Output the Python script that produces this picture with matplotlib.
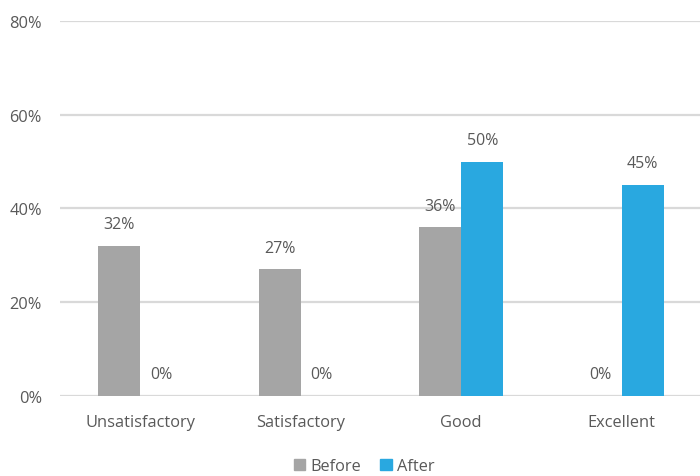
import matplotlib.pyplot as plt
import numpy as np
from matplotlib.patches import Patch

categories = ['Unsatisfactory', 'Satisfactory', 'Good', 'Excellent']
before = [32, 27, 36, 0]
after = [0, 0, 50, 45]
series_names = ['Before', 'After']

plt.rcParams['font.family'] = ['Open Sans', 'DejaVu Sans']
text_color = '#595959'
gray = '#a5a5a5'
blue = '#29a8e0'

fig = plt.figure(figsize=(7, 4.77), dpi=100)
ax = fig.add_axes([0.0857, 0.1677, 0.917, 0.7862])

x = np.arange(len(categories))
w = 0.262
b1 = ax.bar(x - w / 2, before, w, color=gray, zorder=3)
b2 = ax.bar(x + w / 2, after, w, color=blue, zorder=3)

for bars, vals in ((b1, before), (b2, after)):
    for bar, v in zip(bars, vals):
        ax.text(bar.get_x() + bar.get_width() / 2, v + 2.9, f'{v}%',
                ha='center', va='bottom', fontsize=11.5, color=text_color)

ax.set_xlim(-0.5, len(categories) - 0.5)
ax.set_ylim(0, 80)
ax.set_yticks([0, 20, 40, 60, 80])
ax.set_yticklabels([f'{t}%' for t in [0, 20, 40, 60, 80]])
ax.set_xticks(x)
ax.set_xticklabels(categories)
ax.tick_params(axis='both', length=0, labelsize=11.8, labelcolor=text_color)
ax.tick_params(axis='y', pad=13)
ax.tick_params(axis='x', pad=13)
ax.yaxis.grid(True, color='#d9d9d9', linewidth=1.6, zorder=0)
for s in ax.spines.values():
    s.set_visible(False)

handles = [Patch(color=gray), Patch(color=blue)]
fig.legend(handles, series_names, loc='center', bbox_to_anchor=(0.52, 0.02),
           ncol=2, frameon=False, fontsize=11.8, labelcolor=text_color,
           handlelength=0.7, handleheight=0.7, handletextpad=0.3, columnspacing=1.2)

fig.savefig('out.png', dpi=100)
